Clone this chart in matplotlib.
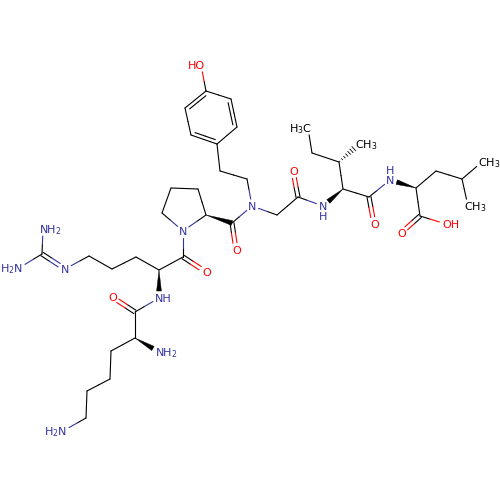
import matplotlib
matplotlib.use('Agg')
import numpy as np
import matplotlib.pyplot as plt

plt.rcParams['mathtext.default'] = 'regular'

# atom positions (pixels), name -> x, y
atoms = {
    'nh2a': (43, 229), 'cgu': (42, 254), 'nh2b': (19, 268), 'ngu': (65, 269),
    'cd': (89, 256), 'cg': (112, 269), 'cb': (136, 257), 'ca': (159, 270),
    'c1': (183, 257), 'o1': (206, 272), 'nh1': (159, 298), 'c2': (135, 312),
    'o2': (112, 297), 'ca2': (135, 338), 'nh2c': (159, 352), 'cb2': (111, 351),
    'cg2': (110, 379), 'cd2': (87, 391), 'ce2': (86, 418), 'nh2d': (63, 431),
    'npro': (183, 231), 'cdp': (162, 213), 'cgp': (171, 188), 'cbp': (198, 189),
    'cap': (206, 215), 'c3': (232, 223), 'o3': (236, 250), 'n': (252, 206),
    'ch1': (247, 179), 'ch2': (220, 171), 'r1': (217, 144), 'r2': (191, 135),
    'r3': (185, 108), 'r4': (206, 91), 'r5': (231, 99), 'r6': (237, 127),
    'oh': (201, 65), 'ch3': (277, 215), 'c4': (298, 197), 'o4': (293, 171),
    'nh3': (323, 206), 'cai': (343, 189), 'cbi': (339, 162), 'me1': (359, 144),
    'cgi': (312, 153), 'me2': (308, 128), 'c5': (369, 197), 'o5': (374, 224),
    'nh4': (390, 180), 'cal': (416, 188), 'cbl': (436, 171), 'cgl': (462, 179),
    'me3': (482, 162), 'me4': (468, 206), 'c6': (420, 216), 'o6': (401, 233),
    'oh2': (446, 224),
}

single_bonds = [
    ('nh2a', 'cgu'), ('cgu', 'nh2b'), ('ngu', 'cd'), ('cd', 'cg'), ('cg', 'cb'),
    ('cb', 'ca'), ('ca', 'c1'), ('c1', 'npro'), ('nh1', 'c2'), ('c2', 'ca2'),
    ('ca2', 'cb2'), ('cb2', 'cg2'), ('cg2', 'cd2'), ('cd2', 'ce2'), ('ce2', 'nh2d'),
    ('npro', 'cdp'), ('cdp', 'cgp'), ('cgp', 'cbp'), ('cbp', 'cap'), ('cap', 'npro'),
    ('c3', 'n'), ('n', 'ch1'), ('ch1', 'ch2'), ('ch2', 'r1'), ('r2', 'r3'),
    ('r4', 'r5'), ('r6', 'r1'), ('r4', 'oh'), ('n', 'ch3'), ('ch3', 'c4'),
    ('c4', 'nh3'), ('cai', 'cbi'), ('cbi', 'cgi'), ('cgi', 'me2'), ('cai', 'c5'),
    ('c5', 'nh4'), ('cal', 'cbl'), ('cbl', 'cgl'), ('cgl', 'me3'), ('cgl', 'me4'),
    ('cal', 'c6'), ('c6', 'oh2'),
]
# second line goes on the side given by sign
double_bonds = [
    ('cgu', 'ngu', 1), ('c1', 'o1', 1), ('c2', 'o2', 1), ('c3', 'o3', 1),
    ('c4', 'o4', 1), ('c5', 'o5', 1), ('c6', 'o6', 1),
    ('r1', 'r2', 1), ('r3', 'r4', 1), ('r5', 'r6', 1),
]
wedge_bonds = [('ca', 'nh1'), ('ca2', 'nh2c'), ('cap', 'c3'), ('cai', 'nh3'), ('cal', 'nh4')]
hash_bonds = [('cbi', 'me1')]

NAVY = '#3333a0'
RED = '#ff0000'
BLACK = '#000000'
# label, anchor side ('l' = first letter on atom, 'r' = last letter on atom), colour
labels = {
    'nh2a': ('NH$_2$', 'l', NAVY), 'nh2b': ('H$_2$N', 'r', NAVY), 'ngu': ('N', 'l', NAVY),
    'nh1': ('NH', 'l', NAVY), 'o1': ('O', 'l', RED), 'o2': ('O', 'l', RED),
    'nh2c': ('NH$_2$', 'l', NAVY), 'nh2d': ('H$_2$N', 'r', NAVY), 'npro': ('N', 'l', NAVY),
    'o3': ('O', 'l', RED), 'n': ('N', 'l', NAVY), 'oh': ('HO', 'r', RED), 'o4': ('O', 'l', RED),
    'nh3': ('N', 'l', NAVY), 'me1': ('CH$_3$', 'l', BLACK), 'me2': ('H$_3$C', 'r', BLACK),
    'o5': ('O', 'l', RED), 'nh4': ('N', 'l', NAVY), 'me3': ('CH$_3$', 'l', BLACK),
    'me4': ('CH$_3$', 'l', BLACK), 'o6': ('O', 'l', RED), 'oh2': ('OH', 'l', RED),
}
# the H drawn under or over an N
extra_h = [('nh3', 10), ('nh4', -10)]

LW = 0.8
FS = 8
GAP = 7
HALF = 4.1
RISE = 4

fig = plt.figure(figsize=(5, 5), dpi=100)
ax = fig.add_axes([0, 0, 1, 1])
ax.set_xlim(0, 500)
ax.set_ylim(500, 0)
ax.axis('off')


def colour(a):
    return labels[a][2] if a in labels else BLACK


def trim(a, b):
    # cut the ends that run into a label
    pa, pb = np.array(atoms[a], float), np.array(atoms[b], float)
    u = (pb - pa) / np.linalg.norm(pb - pa)
    sa = pa + u * GAP if a in labels else pa
    sb = pb - u * GAP if b in labels else pb
    return sa, sb


def two_tone(pa, pb, ca, cb):
    mid = (pa + pb) / 2
    ax.plot([pa[0], mid[0]], [pa[1], mid[1]], color=ca, lw=LW, solid_capstyle='round')
    ax.plot([mid[0], pb[0]], [mid[1], pb[1]], color=cb, lw=LW, solid_capstyle='round')


for a, b in single_bonds:
    sa, sb = trim(a, b)
    two_tone(sa, sb, colour(a), colour(b))

for a, b, side in double_bonds:
    sa, sb = trim(a, b)
    u = (sb - sa) / np.linalg.norm(sb - sa)
    n = np.array([-u[1], u[0]]) * side
    if a in labels or b in labels:
        two_tone(sa - n * 2, sb - n * 2, colour(a), colour(b))
        two_tone(sa + n * 2, sb + n * 2, colour(a), colour(b))
    else:
        two_tone(sa, sb, BLACK, BLACK)
        two_tone(sa + n * 3.6 + u * 3, sb + n * 3.6 - u * 3, BLACK, BLACK)

for a, b in wedge_bonds:
    pa, pb = trim(a, b)
    u = (pb - pa) / np.linalg.norm(pb - pa)
    n = np.array([-u[1], u[0]]) * 2.4
    ax.fill([pa[0], pb[0] + n[0], pb[0] - n[0]], [pa[1], pb[1] + n[1], pb[1] - n[1]],
            color=BLACK, lw=0.3)

for a, b in hash_bonds:
    pa, pb = trim(a, b)
    u = (pb - pa) / np.linalg.norm(pb - pa)
    n = np.array([-u[1], u[0]])
    for t in np.linspace(0.05, 1, 7):
        p = pa + (pb - pa) * t
        q = n * 2.8 * t
        ax.plot([p[0] - q[0], p[0] + q[0]], [p[1] - q[1], p[1] + q[1]], color=BLACK, lw=0.6)

for name, (text, side, col) in labels.items():
    x, y = atoms[name]
    if side == 'l':
        ax.text(x - HALF, y + RISE, text, color=col, fontsize=FS, ha='left', va='baseline')
    else:
        ax.text(x + HALF, y + RISE, text, color=col, fontsize=FS, ha='right', va='baseline')

for name, dy in extra_h:
    x, y = atoms[name]
    ax.text(x, y + dy + RISE, 'H', color=NAVY, fontsize=FS, ha='center', va='baseline')

fig.savefig('out.png', dpi=100, facecolor='white')
